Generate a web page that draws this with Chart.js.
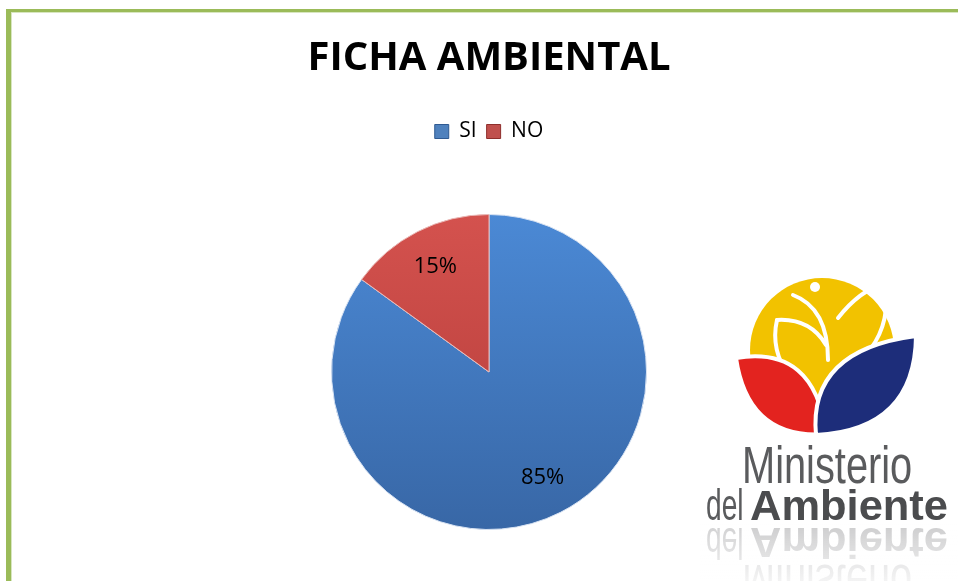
<!DOCTYPE html>
<html>
<head>
<meta charset="utf-8">
<script src="https://cdn.jsdelivr.net/npm/chart.js@4.4.1/dist/chart.umd.min.js"></script>
<style>
  html, body { margin: 0; padding: 0; background: #fff; }
  #wrap { position: relative; width: 958px; height: 581px; overflow: hidden; }
  #frame {
    position: absolute; left: 6px; top: 9px; width: 1000px; height: 640px;
    border-left: 5px solid #9bbb59; border-top: 3px solid #9bbb59;
    box-shadow: inset 1px 1px 0 #d8e6c0; box-sizing: border-box;
  }
  canvas { position: absolute; left: 0; top: 0; }
</style>
</head>
<body>
<div id="wrap">
  <div id="frame"></div>
  <canvas id="chart" width="958" height="581"></canvas>
</div>
<script>
(function () {
    "use strict";

    // Data
    const categories = ["SI", "NO"];
    const values = [85, 15];
    const chartTitle = "FICHA AMBIENTAL";

    // Colours (top / bottom of the gradient) per slice
    const sliceTop = ["#4b89d5", "#d4524e"];
    const sliceBottom = ["#3867a6", "#b23b38"];
    const sliceSolid = ["#4f81bd", "#c0504d"];
    const sliceEdge = ["#2f5a92", "#8e2f2c"];

    const font = "'Open Sans', 'DejaVu Sans', sans-serif";

    const sliceFill = (c) => {
        const i = c.dataIndex;
        const area = c.chart.chartArea;
        if (!area || i === undefined) return sliceSolid[i || 0];
        const g = c.chart.ctx.createLinearGradient(0, area.top, 0, area.bottom);
        g.addColorStop(0, sliceTop[i]);
        g.addColorStop(1, sliceBottom[i]);
        return g;
    };

    // Percent labels inside slices
    const pctLabels = {
        id: "pctLabels",
        afterDatasetsDraw(chart) {
            const ctx = chart.ctx;
            const meta = chart.getDatasetMeta(0);
            const total = values.reduce((a, b) => a + b, 0);
            ctx.save();
            ctx.font = "22px " + font;
            ctx.fillStyle = "#000";
            ctx.textAlign = "center";
            ctx.textBaseline = "middle";
            meta.data.forEach((arc, i) => {
                const p = arc.getProps(["x", "y", "startAngle", "endAngle", "outerRadius"], true);
                const mid = (p.startAngle + p.endAngle) / 2;
                const r = p.outerRadius * 0.75;
                const pct = Math.round(values[i] / total * 100) + "%";
                ctx.fillText(pct, p.x + Math.cos(mid) * r, p.y + Math.sin(mid) * r);
            });
            ctx.restore();
        }
    };

    // Ministry logo drawn at the lower right
    const logo = {
        id: "logo",
        afterDraw(chart) {
            const ctx = chart.ctx;
            ctx.save();

            // yellow disc
            ctx.fillStyle = "#f2c200";
            ctx.beginPath();
            ctx.arc(822, 350, 72, 0, Math.PI * 2);
            ctx.fill();

            // white leaf lines in the yellow part
            ctx.strokeStyle = "#fff";
            ctx.lineWidth = 4;
            ctx.lineCap = "round";
            ctx.beginPath();
            ctx.moveTo(793, 295);
            ctx.quadraticCurveTo(828, 308, 828, 360);
            ctx.stroke();
            ctx.beginPath();
            ctx.moveTo(777, 320);
            ctx.quadraticCurveTo(770, 350, 790, 378);
            ctx.stroke();
            ctx.beginPath();
            ctx.moveTo(777, 320);
            ctx.quadraticCurveTo(810, 318, 826, 345);
            ctx.stroke();
            ctx.beginPath();
            ctx.moveTo(838, 318);
            ctx.quadraticCurveTo(860, 290, 884, 284);
            ctx.quadraticCurveTo(892, 320, 870, 350);
            ctx.stroke();
            ctx.fillStyle = "#fff";
            ctx.beginPath();
            ctx.arc(815, 287, 5, 0, Math.PI * 2);
            ctx.fill();

            // red petal
            ctx.lineWidth = 4;
            ctx.fillStyle = "#e3231f";
            ctx.beginPath();
            ctx.moveTo(736, 358);
            ctx.quadraticCurveTo(815, 345, 826, 434);
            ctx.quadraticCurveTo(748, 440, 736, 358);
            ctx.closePath();
            ctx.fill();
            ctx.stroke();

            // blue petal
            ctx.fillStyle = "#1d2d7a";
            ctx.beginPath();
            ctx.moveTo(816, 435);
            ctx.quadraticCurveTo(808, 350, 916, 336);
            ctx.quadraticCurveTo(915, 430, 816, 435);
            ctx.closePath();
            ctx.fill();
            ctx.stroke();

            const drawWords = (alpha) => {
                ctx.globalAlpha = alpha;
                ctx.fillStyle = "#5a5b5d";
                ctx.textBaseline = "alphabetic";
                ctx.textAlign = "left";
                // Ministerio
                ctx.save();
                ctx.translate(742, 483);
                ctx.scale(0.78, 1);
                ctx.font = "51px 'Liberation Sans', Arial, sans-serif";
                ctx.fillText("Ministerio", 0, 0);
                ctx.restore();
                // del
                ctx.save();
                ctx.translate(706, 520);
                ctx.scale(0.64, 1);
                ctx.font = "44px 'Liberation Sans', Arial, sans-serif";
                ctx.fillText("del", 0, 0);
                ctx.restore();
                // Ambiente
                ctx.save();
                ctx.fillStyle = "#4b4c4e";
                ctx.translate(750, 520);
                ctx.font = "bold 43px 'Liberation Sans', Arial, sans-serif";
                const w = ctx.measureText("Ambiente").width;
                ctx.scale(198 / w, 1);
                ctx.fillText("Ambiente", 0, 0);
                ctx.restore();
            };

            drawWords(1);

            // mirrored reflection
            ctx.save();
            ctx.beginPath();
            ctx.rect(700, 524, 258, 60);
            ctx.clip();
            ctx.translate(0, 1048);
            ctx.scale(1, -1);
            drawWords(0.28);
            ctx.restore();

            // fade the reflection downwards
            const fade = ctx.createLinearGradient(0, 524, 0, 581);
            fade.addColorStop(0, "rgba(255,255,255,0)");
            fade.addColorStop(1, "rgba(255,255,255,0.75)");
            ctx.globalAlpha = 1;
            ctx.fillStyle = fade;
            ctx.fillRect(700, 524, 258, 57);

            ctx.restore();
        }
    };

    const ctx = document.getElementById("chart").getContext("2d");

    new Chart(ctx, {
        type: "pie",
        data: {
            labels: categories,
            datasets: [
                {
                    data: values,
                    backgroundColor: sliceFill,
                    borderColor: ["#d7e2f2", "#e9b9b7"],
                    borderWidth: 1,
                    hoverOffset: 0,
                },
            ],
        },
        options: {
            responsive: false,
            animation: false,
            events: [],
            layout: {
                padding: { left: 20, right: 0, top: 0, bottom: 51 },
            },
            plugins: {
                title: {
                    display: true,
                    text: chartTitle,
                    color: "#000",
                    font: { family: font, size: 40, weight: "bold", lineHeight: 1.2 },
                    padding: { top: 35, bottom: 28 },
                },
                subtitle: {
                    // spacer between legend and pie
                    display: true,
                    text: " ",
                    font: { size: 10, lineHeight: 1 },
                    padding: { top: 0, bottom: 52 },
                },
                legend: {
                    position: "top",
                    weight: 1800,
                    labels: {
                        color: "#000",
                        font: { family: font, size: 21 },
                        boxWidth: 14,
                        boxHeight: 14,
                        padding: 10,
                        generateLabels: () =>
                            categories.map((c, i) => ({
                                text: c,
                                fillStyle: sliceSolid[i],
                                strokeStyle: sliceEdge[i],
                                lineWidth: 1,
                                index: i,
                            })),
                    },
                },
                tooltip: { enabled: false },
            },
        },
        plugins: [pctLabels, logo],
    });
})();
</script>
</body>
</html>
